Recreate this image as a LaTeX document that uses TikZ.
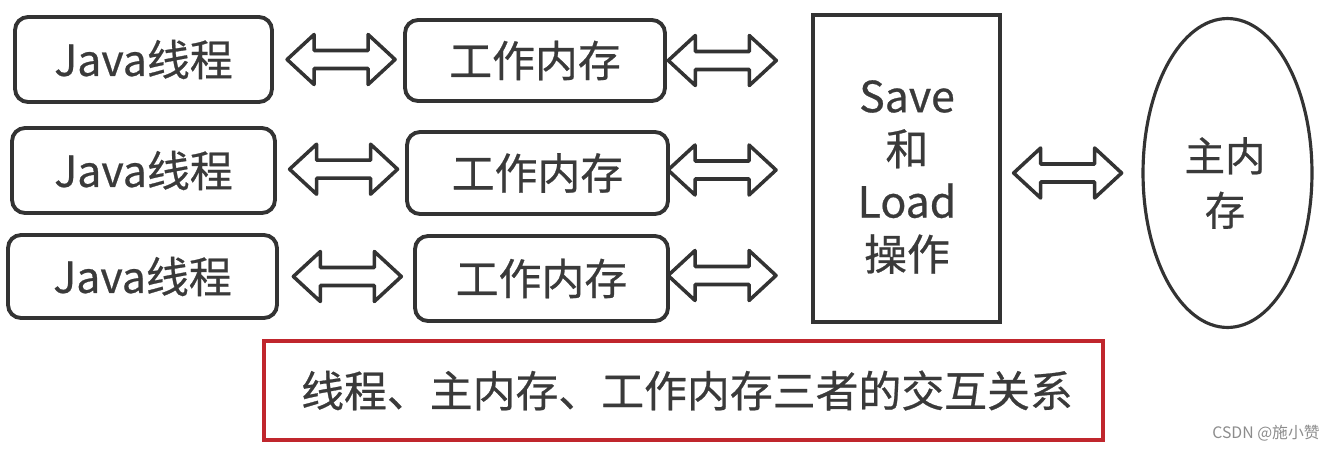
\documentclass[tikz,border=0pt]{standalone}
\usepackage{fontspec}
\setmainfont{Noto Sans CJK SC}[RawFeature={embolden=0.6}]
\newfontfamily\markfont{Noto Sans CJK SC}
\usetikzlibrary{shapes.geometric}
\definecolor{ink}{HTML}{333333}
\definecolor{txt}{HTML}{3A3A3A}
\definecolor{frame}{HTML}{C0262D}
\definecolor{mark}{HTML}{8C8C8C}
\begin{document}
\begin{tikzpicture}[x=0.02cm,y=-0.02cm,
  every node/.style={text=txt, inner sep=0pt},
  big/.style={font=\fontsize{24.4}{30}\selectfont},
  thread/.style={big, draw=ink, line width=2.2pt, rounded corners=0.26cm},
  work/.style={thread},
  % hollow two-headed arrow, drawn around the point where it is placed
  fatarrow/.pic={
    \draw[draw=ink, fill=white, line width=2pt, line join=round]
      (-54,0) -- (-27,-25) -- (-27,-9) -- (27,-9) -- (27,-25) -- (54,0)
      -- (27,25) -- (27,9) -- (-27,9) -- (-27,25) -- cycle;
  },
]
\useasboundingbox (0,0) rectangle (1332,450);

% Java threads
\node[thread, minimum width=5.14cm, minimum height=1.7cm] (j1) at (143.5,59.5) {Java线程};
\node[thread, minimum width=5.26cm, minimum height=1.7cm] (j2) at (143.5,170.5) {Java线程};
\node[thread, minimum width=5.38cm, minimum height=1.66cm] (j3) at (142.5,276.5) {Java线程};

% working memories
\node[work, minimum width=5.2cm, minimum height=1.62cm] (w1) at (535,60.5) {工作内存};
\node[work, minimum width=5.22cm, minimum height=1.64cm] (w2) at (537.5,173) {工作内存};
\node[work, minimum width=5.06cm, minimum height=1.7cm] (w3) at (541.5,278.5) {工作内存};

% save / load block
\node[draw=ink, line width=2.5pt, minimum width=3.74cm, minimum height=6.14cm] (sl) at (906.5,168.5) {};
\node[big, align=center] (slt) at (907,177) {Save\\和\\Load\\操作};

% main memory
\node[ellipse, draw=ink, line width=1.8pt, minimum width=3.38cm, minimum height=6.18cm] (mm) at (1227.5,173) {};
\node[font=\fontsize{23}{31}\selectfont, align=center] (mmt) at (1225,183) {主内\\存};

% exchanges between the parts
\path (j1.east) -- pic[pos=0.52] {fatarrow} (j1.east -| w1.west);
\path (j2.east) -- pic[pos=0.52] {fatarrow} ([yshift=0.05cm]j2.east -| w2.west);
\path (j3.east) -- pic[pos=0.51] {fatarrow} (j3.east -| w3.west);
\path (w1.east) -- pic[pos=0.385] {fatarrow} (w1.east -| sl.west);
\path ([yshift=0.06cm]w2.east) -- pic[pos=0.37] {fatarrow} ([yshift=0.06cm]w2.east -| sl.west);
\path ([yshift=0.06cm]w3.east) -- pic[pos=0.37] {fatarrow} ([yshift=0.06cm]w3.east -| sl.west);
\path (sl.east |- mm.west) -- pic[pos=0.47] {fatarrow} (mm.west);

% caption
\node[draw=frame, line width=2.3pt, minimum width=16.78cm, minimum height=1.98cm]
  (cap) at (683.5,390.5) {};
\node[big] (capt) at (687,390.5) {线程、主内存、工作内存三者的交互关系};

\node[text=mark, font=\markfont\fontsize{9}{11}\selectfont] (wm) at (1266,433) {CSDN @施小赞};
\end{tikzpicture}
\end{document}
